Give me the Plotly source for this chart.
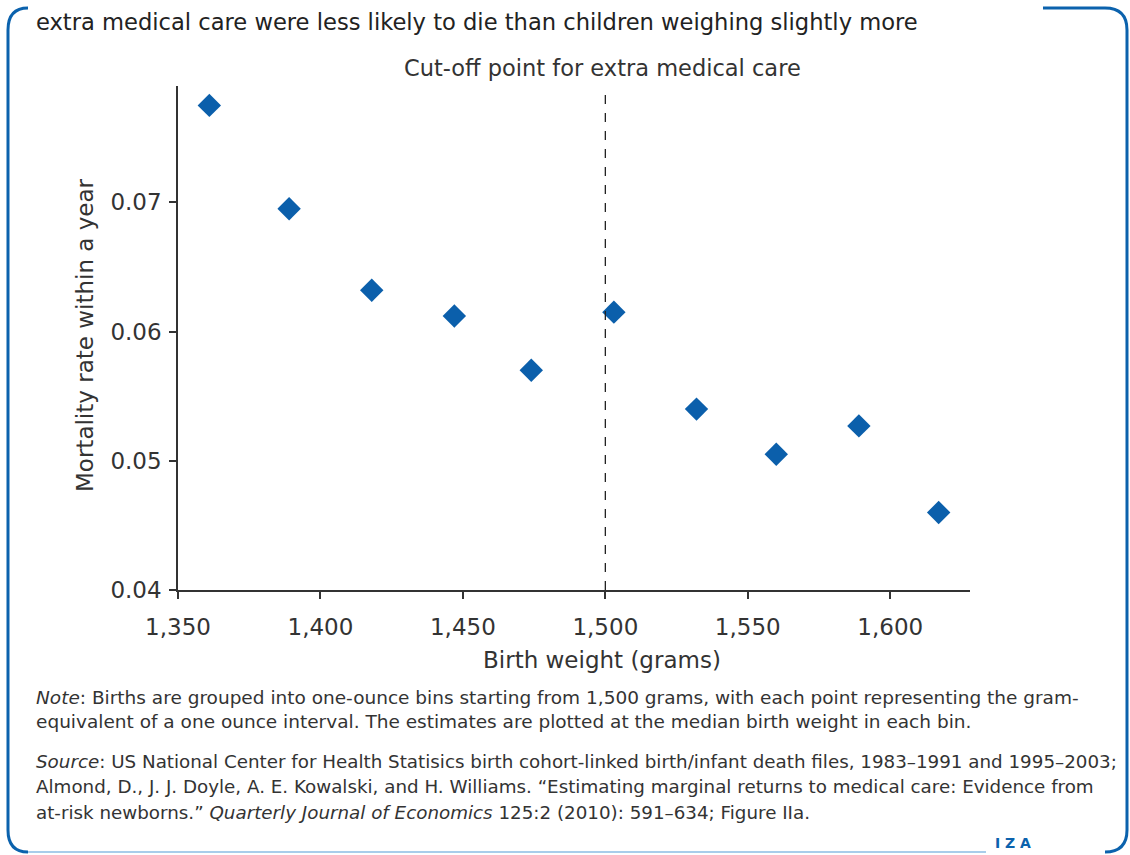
import plotly.graph_objects as go

# Data
birth_weight = [1361, 1389, 1418, 1447, 1474, 1503, 1532, 1560, 1589, 1617]
mortality = [0.0775, 0.0695, 0.0632, 0.0612, 0.0570, 0.0615, 0.0540, 0.0505, 0.0527, 0.0460]
cutoff = 1500
x_ticks = [1350, 1400, 1450, 1500, 1550, 1600]
x_tick_labels = ["1,350", "1,400", "1,450", "1,500", "1,550", "1,600"]
y_ticks = [0.04, 0.05, 0.06, 0.07]
y_tick_labels = ["0.04", "0.05", "0.06", "0.07"]

title_line = "extra medical care were less likely to die than children weighing slightly more"
note_lines = [
    "<i>Note</i>: Births are grouped into one-ounce bins starting from 1,500 grams, with each point representing the gram-",
    "equivalent of a one ounce interval. The estimates are plotted at the median birth weight in each bin.",
]
source_lines = [
    "<i>Source</i>: US National Center for Health Statisics birth cohort-linked birth/infant death files, 1983–1991 and 1995–2003;",
    "Almond, D., J. J. Doyle, A. E. Kowalski, and H. Williams. “Estimating marginal returns to medical care: Evidence from",
    "at-risk newborns.” <i>Quarterly Journal of Economics</i> 125:2 (2010): 591–634; Figure IIa.",
]

W, H = 1130, 855
L, R, T, B = 178, 970, 86, 590
FONT = "DejaVu Sans, Liberation Sans, Arial, sans-serif"
BLUE = "#0b62ad"
LIGHT = "#a9cdea"


def px(x):
    return (x - L) / (R - L)


def py(y):
    return (B - y) / (B - T)


fig = go.Figure()
fig.add_trace(go.Scatter(
    x=birth_weight, y=mortality, mode="markers",
    marker=dict(symbol="diamond", size=18, color="#0b5fab", line=dict(width=0)),
    showlegend=False, hoverinfo="x+y",
))

fig.update_layout(
    width=W, height=H,
    margin=dict(l=L, r=W - R, t=T, b=H - B, pad=0),
    paper_bgcolor="white", plot_bgcolor="white",
    font=dict(family=FONT, color="#2a2a2a"),
    xaxis=dict(range=[1350, 1628], tickvals=x_ticks, ticktext=x_tick_labels,
               showgrid=False, zeroline=False, showline=True, linecolor="#333", linewidth=1.5,
               ticks="outside", ticklen=7, tickcolor="#333", tickwidth=1.5, ticklabelstandoff=9,
               tickfont=dict(size=23, family=FONT, color="#333")),
    yaxis=dict(range=[0.04, 0.0790], tickvals=y_ticks, ticktext=y_tick_labels,
               showgrid=False, zeroline=False, showline=True, linecolor="#333", linewidth=1.5,
               ticks="outside", ticklen=7, tickcolor="#333", tickwidth=1.5, ticklabelstandoff=3,
               tickfont=dict(size=23, family=FONT, color="#333")),
)

shapes = []
# cut-off dashed line
shapes.append(dict(type="line", xref="x", yref="paper", x0=cutoff, x1=cutoff, y0=0, y1=1,
                   line=dict(color="#222", width=1.3, dash="dash")))

# frame
def p(x, y):
    return f"{px(x):.5f},{py(y):.5f}"

left_path = f"M {p(28,8)} Q {p(8,8)} {p(8,30)} L {p(8,830)} Q {p(8,852)} {p(28,852)}"
right_path = f"M {p(1043,8)} L {p(1105,8)} Q {p(1127,8)} {p(1127,30)} L {p(1127,830)} Q {p(1127,852)} {p(1105,852)}"
shapes.append(dict(type="path", xref="paper", yref="paper", path=left_path, line=dict(color=BLUE, width=3)))
shapes.append(dict(type="path", xref="paper", yref="paper", path=right_path, line=dict(color=BLUE, width=3)))
shapes.append(dict(type="line", xref="paper", yref="paper", x0=px(28), x1=px(986), y0=py(852), y1=py(852),
                   line=dict(color=LIGHT, width=2)))

annotations = []
annotations.append(dict(text=title_line, xref="paper", yref="paper", x=px(34), y=py(22),
                        xanchor="left", yanchor="middle", showarrow=False,
                        font=dict(size=22.6, family=FONT, color="#222")))
annotations.append(dict(text="Cut-off point for extra medical care", xref="paper", yref="paper",
                        x=px(602), y=py(68), xanchor="center", yanchor="middle", showarrow=False,
                        font=dict(size=22.5, family=FONT, color="#333")))
annotations.append(dict(text="Birth weight (grams)", xref="paper", yref="paper",
                        x=px(602), y=py(660), xanchor="center", yanchor="middle", showarrow=False,
                        font=dict(size=23, family=FONT, color="#333")))
annotations.append(dict(text="Mortality rate within a year", xref="paper", yref="paper",
                        x=px(85), y=py(335), xanchor="center", yanchor="middle", showarrow=False,
                        textangle=-90, font=dict(size=23, family=FONT, color="#333")))
for i, ln in enumerate(note_lines):
    annotations.append(dict(text=ln, xref="paper", yref="paper", x=px(34), y=py(697 + 24 * i),
                            xanchor="left", yanchor="middle", showarrow=False,
                            font=dict(size=18.5, family=FONT, color="#333")))
for i, ln in enumerate(source_lines):
    annotations.append(dict(text=ln, xref="paper", yref="paper", x=px(34), y=py(761 + 25.5 * i),
                            xanchor="left", yanchor="middle", showarrow=False,
                            font=dict(size=18.3, family=FONT, color="#333")))
annotations.append(dict(text="<b>I Z A</b>", xref="paper", yref="paper", x=px(1013), y=py(843),
                        xanchor="center", yanchor="middle", showarrow=False,
                        font=dict(size=14, family=FONT, color=BLUE)))

fig.update_layout(shapes=shapes, annotations=annotations)
fig.write_html("out.html", config={"displayModeBar": False},
               post_script="document.body.style.margin='0';document.body.style.overflow='hidden';")
